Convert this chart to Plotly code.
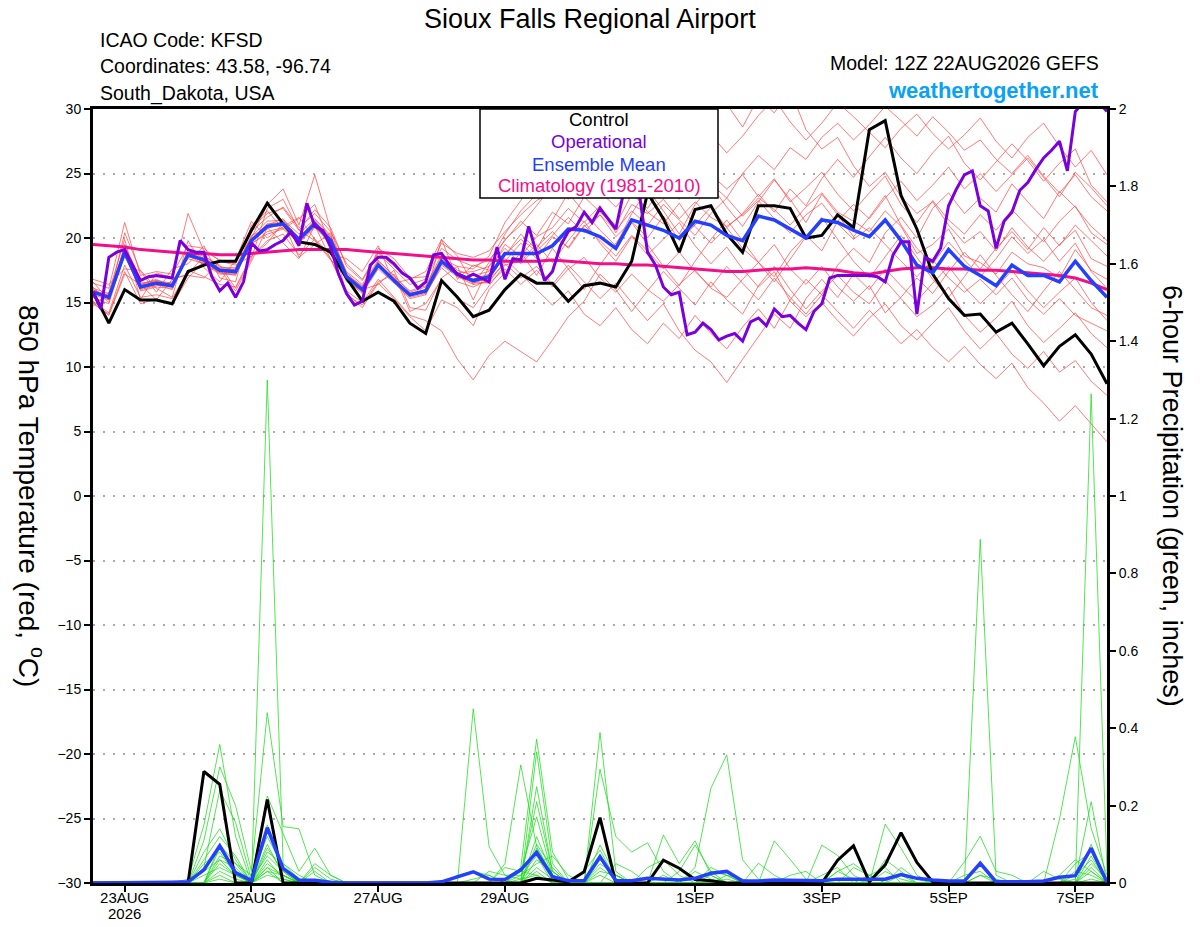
import pandas as pd
import plotly.graph_objects as go

# ---- time axes (GEFS 6-hourly, GFS operational 3-hourly) ----
run_start = "2026-08-22 12:00"
run_end = "2026-09-07 12:00"
times_6h = pd.date_range(run_start, run_end, freq="6h")
times_3h = pd.date_range(run_start, run_end, freq="3h")

date_ticks = ["2026-08-23", "2026-08-25", "2026-08-27", "2026-08-29",
              "2026-09-01", "2026-09-03", "2026-09-05", "2026-09-07"]
date_labels = ["23AUG", "25AUG", "27AUG", "29AUG",
               "1SEP", "3SEP", "5SEP", "7SEP"]
year_label = "2026"

temp_ticks = [-30, -25, -20, -15, -10, -5, 0, 5, 10, 15, 20, 25, 30]
precip_ticks = [0, 0.2, 0.4, 0.6, 0.8, 1, 1.2, 1.4, 1.6, 1.8, 2]
precip_labels = ["0", "0.2", "0.4", "0.6", "0.8", "1", "1.2", "1.4", "1.6", "1.8", "2"]

# ---- 850 hPa temperature (C) ----
control_temp = [15.8, 13.4, 16.0, 15.2, 15.2, 14.9, 17.4, 17.9, 18.2,
                18.2, 20.6, 22.7, 21.1, 19.7, 19.5, 18.9, 16.9,
                15.1, 15.8, 15.1, 13.4, 12.6, 16.7, 15.4, 13.9,
                14.4, 16.0, 17.2, 16.5, 16.5, 15.1, 16.3, 16.5,
                16.2, 18.2, 23.5, 21.5, 18.9, 22.2, 22.5, 20.3,
                18.9, 22.5, 22.5, 22.3, 20.0, 20.2, 21.8, 20.8,
                28.4, 29.1, 23.3, 20.7, 17.2, 15.3, 14.0, 14.1,
                12.7, 13.4, 11.8, 10.1, 11.6, 12.5, 11.0, 8.7]

mean_temp = [15.8, 15.4, 18.9, 16.2, 16.5, 16.3, 18.7, 18.3, 17.5,
             17.4, 19.8, 20.9, 21.1, 19.9, 21.1, 19.8, 17.0,
             16.0, 17.9, 16.7, 15.6, 15.9, 18.2, 17.2, 16.7,
             17.0, 18.8, 18.8, 18.8, 19.4, 20.7, 20.6, 20.1,
             19.2, 21.4, 21.0, 20.6, 20.0, 21.3, 21.0, 20.2,
             19.8, 21.7, 21.4, 20.7, 20.0, 21.4, 21.2, 20.6,
             20.1, 21.4, 19.8, 17.9, 17.3, 19.1, 17.8, 17.1,
             16.3, 17.9, 17.1, 17.1, 16.6, 18.2, 16.7, 15.4]

clim_temp = [19.5, 19.4, 19.3, 19.1, 19.0, 18.9, 18.8, 18.8, 18.7,
             18.7, 18.8, 18.9, 19.0, 19.1, 19.1, 19.1, 19.1,
             19.0, 18.9, 18.8, 18.7, 18.6, 18.5, 18.4, 18.3,
             18.3, 18.2, 18.2, 18.2, 18.3, 18.2, 18.1, 18.0,
             18.0, 17.9, 17.9, 17.8, 17.7, 17.6, 17.5, 17.4,
             17.4, 17.5, 17.6, 17.6, 17.7, 17.6, 17.5, 17.3,
             17.2, 17.4, 17.6, 17.7, 17.7, 17.6, 17.6, 17.5,
             17.5, 17.4, 17.3, 17.2, 17.1, 16.9, 16.5, 16.0]

oper_temp = [15.8, 14.5, 18.5, 18.9, 19.1, 17.9, 16.7, 17.0, 17.1, 17.0,
             16.9, 19.8, 19.1, 18.9, 18.9, 17.0, 15.9, 16.5, 15.4, 16.6,
             19.6, 19.0, 19.1, 19.5, 19.8, 20.5, 19.4, 22.7, 20.9, 20.6,
             19.3, 17.2, 15.7, 14.8, 15.1, 17.9, 18.5, 18.5, 18.0, 17.3,
             16.9, 16.1, 16.6, 18.7, 18.8, 17.9, 17.2, 16.9, 17.2, 16.9,
             16.6, 19.3, 16.8, 18.4, 18.3, 20.9, 18.7, 16.7, 17.4, 19.4,
             20.5, 20.9, 22.0, 21.2, 22.3, 21.5, 20.7, 23.6, 25.0, 23.3,
             18.9, 17.9, 16.2, 15.6, 15.8, 12.5, 12.7, 13.4, 12.9, 12.1,
             12.4, 12.6, 12.0, 13.5, 13.8, 13.2, 14.5, 13.9, 14.0, 13.4,
             12.9, 14.3, 14.9, 16.9, 17.1, 17.1, 17.1, 17.1, 17.1, 17.0,
             16.6, 18.7, 19.7, 19.7, 14.1, 18.5, 18.2, 19.2, 22.5, 23.8,
             24.9, 25.2, 22.5, 22.1, 19.2, 21.3, 22.0, 23.7, 24.3, 25.3,
             26.2, 26.8, 27.5, 25.2, 29.8, 30.5, 30.8, 30.5, 29.8]

temp_m01 = [16.2, 15.0, 19.5, 16.8, 17.0, 16.9, 21.9, 19.0, 18.3,
            18.0, 20.5, 21.6, 22.4, 20.8, 21.9, 20.5, 18.0,
            16.8, 18.9, 17.8, 16.9, 17.0, 19.6, 18.8, 18.5,
            19.0, 20.5, 21.8, 22.9, 23.6, 24.8, 25.9, 26.4,
            25.2, 27.0, 28.1, 26.5, 27.9, 29.2, 28.0, 26.6,
            27.9, 29.5, 30.8, 29.0, 27.6, 28.9, 30.5, 29.4,
            28.2, 27.0, 28.5, 29.6, 28.1, 26.9, 28.0, 29.3,
            27.5, 26.2, 27.8, 28.9, 27.1, 25.5, 26.8, 24.9]
temp_m02 = [15.0, 14.0, 17.2, 16.4, 15.2, 16.8, 17.2, 18.6, 17.9,
            16.1, 18.4, 22.3, 23.0, 20.6, 19.8, 18.3, 17.2,
            16.0, 16.4, 17.5, 14.6, 14.4, 16.9, 17.8, 15.2,
            17.8, 19.9, 21.0, 22.5, 24.1, 23.0, 25.2, 26.8,
            25.5, 27.4, 26.0, 28.6, 30.5, 29.8, 31.2, 30.4,
            28.6, 30.9, 29.7, 31.5, 28.4, 26.9, 27.8, 25.6,
            24.0, 25.1, 23.2, 21.9, 22.8, 21.0, 19.6, 20.5,
            19.0, 20.8, 19.3, 18.2, 19.5, 20.6, 18.4, 17.8]
temp_m03 = [15.9, 15.6, 19.3, 16.4, 16.8, 16.2, 18.9, 18.6, 17.8,
            17.5, 20.1, 21.3, 21.4, 20.3, 21.5, 20.2, 17.3,
            16.2, 18.2, 17.1, 15.8, 16.2, 18.5, 17.5, 17.1,
            17.4, 19.5, 18.6, 20.1, 20.8, 22.3, 21.2, 22.5,
            20.4, 22.6, 21.9, 23.0, 21.5, 22.8, 21.6, 20.9,
            21.8, 23.1, 22.2, 21.0, 22.4, 23.5, 22.0, 21.3,
            20.5, 22.1, 20.9, 18.8, 19.5, 20.7, 18.6, 18.1,
            17.2, 18.9, 18.0, 17.7, 16.9, 19.1, 17.5, 16.8]
temp_m04 = [15.1, 14.2, 17.9, 15.4, 15.6, 15.3, 17.5, 17.0, 16.4,
            16.2, 18.6, 19.8, 20.3, 18.7, 19.9, 18.4, 15.9,
            15.0, 16.8, 15.4, 14.0, 13.6, 12.8, 10.6, 9.0,
            10.9, 12.0, 11.2, 10.4, 12.1, 13.9, 15.1, 17.2,
            16.0, 14.3, 15.9, 17.4, 16.1, 14.8, 16.6, 15.2,
            14.1, 16.3, 17.8, 16.0, 14.5, 15.9, 17.1, 15.8,
            14.9, 16.7, 15.3, 13.9, 14.8, 16.2, 14.0, 12.7,
            13.8, 15.1, 13.2, 11.9, 13.0, 14.2, 12.6, 11.5]
temp_m05 = [16.8, 16.4, 17.6, 17.5, 16.1, 15.4, 19.8, 17.7, 16.6,
            18.3, 21.3, 20.0, 20.9, 21.6, 19.9, 18.7, 18.4,
            17.4, 19.4, 16.5, 16.8, 17.4, 19.9, 16.8, 17.9,
            17.5, 18.4, 17.2, 16.0, 14.8, 15.9, 14.1, 13.2,
            14.6, 12.9, 11.8, 13.4, 12.2, 14.0, 12.6, 11.4,
            13.1, 14.5, 13.0, 15.2, 16.8, 15.6, 17.9, 19.2,
            18.1, 20.4, 21.6, 20.0, 22.3, 23.5, 21.9, 23.1,
            22.0, 24.2, 22.8, 21.5, 23.6, 22.4, 20.9, 19.8]
temp_m06 = [15.6, 15.2, 18.7, 16.0, 16.3, 16.6, 18.4, 18.0, 17.2,
            17.2, 19.5, 20.5, 20.8, 19.7, 20.9, 19.5, 16.7,
            15.7, 17.6, 16.5, 15.3, 15.6, 17.9, 17.0, 16.4,
            16.6, 18.2, 19.6, 18.4, 20.1, 19.3, 21.0, 19.8,
            18.6, 20.2, 19.0, 17.6, 18.9, 17.4, 16.2, 17.8,
            16.5, 15.2, 16.9, 15.4, 14.1, 15.6, 14.3, 13.0,
            14.4, 13.1, 11.8, 12.9, 11.5, 10.4, 11.6, 10.2,
            9.1, 10.3, 8.4, 7.2, 5.8, 7.0, 5.6, 4.2]
temp_m07 = [16.0, 15.3, 19.0, 16.1, 16.4, 16.0, 19.1, 18.4, 17.6,
            17.6, 20.0, 22.6, 23.8, 21.0, 24.9, 20.6, 17.1,
            16.3, 18.0, 16.9, 15.7, 16.0, 18.4, 17.8, 17.6,
            18.6, 21.2, 22.9, 24.8, 26.3, 27.9, 26.6, 28.5,
            29.3, 27.6, 28.8, 26.9, 25.4, 26.8, 24.9, 23.8,
            24.9, 23.2, 24.6, 22.8, 23.9, 25.1, 23.4, 22.1,
            23.5, 24.8, 22.6, 21.2, 22.9, 21.4, 20.3, 21.8,
            20.6, 22.2, 20.9, 19.7, 21.3, 22.5, 20.4, 19.5]
temp_m08 = [15.7, 15.5, 19.1, 16.3, 16.6, 16.4, 18.8, 18.1, 17.4,
            17.3, 19.9, 21.0, 21.5, 19.8, 21.2, 20.0, 16.9,
            15.9, 18.1, 16.8, 15.5, 15.8, 18.0, 17.1, 16.5,
            16.9, 18.6, 20.3, 19.1, 21.4, 23.5, 22.0, 20.6,
            19.4, 21.9, 23.8, 22.1, 20.3, 22.6, 24.1, 22.4,
            20.9, 22.8, 24.5, 23.0, 21.2, 23.4, 21.8, 20.1,
            21.6, 23.3, 21.0, 19.2, 18.0, 19.7, 18.3, 17.0,
            18.4, 20.1, 18.8, 19.9, 18.2, 19.6, 17.4, 16.1]
temp_m09 = [14.7, 15.8, 19.9, 15.2, 17.3, 16.9, 17.1, 16.9, 18.2,
            17.9, 18.6, 19.6, 21.2, 18.5, 19.5, 20.4, 15.6,
            14.8, 16.6, 17.2, 14.3, 14.9, 16.8, 15.3, 14.6,
            16.3, 17.9, 18.2, 19.5, 18.1, 19.8, 21.3, 19.6,
            18.2, 20.1, 18.7, 19.9, 21.2, 19.4, 18.0, 19.3,
            17.6, 16.2, 17.4, 15.1, 13.9, 15.0, 13.6, 12.4,
            13.8, 14.9, 13.2, 12.1, 13.4, 14.6, 12.8, 11.4,
            12.6, 11.0, 9.9, 11.2, 9.6, 10.5, 8.9, 7.8]
temp_m10 = [16.1, 15.7, 18.6, 16.5, 16.7, 16.5, 18.5, 18.5, 17.7,
            17.7, 20.2, 20.7, 21.3, 20.0, 21.4, 20.1, 17.4,
            16.4, 18.3, 17.0, 15.9, 16.3, 18.7, 17.3, 17.4,
            17.8, 19.2, 18.0, 19.3, 20.5, 19.2, 20.9, 21.8,
            20.1, 21.3, 20.0, 21.7, 19.8, 21.0, 22.4, 20.8,
            21.9, 23.4, 22.0, 23.8, 22.5, 24.6, 26.1, 24.7,
            26.3, 27.8, 26.2, 25.0, 26.6, 27.9, 25.8, 24.5,
            25.9, 27.3, 26.0, 24.4, 25.8, 26.9, 24.1, 22.8]
temp_m11 = [15.4, 14.9, 18.8, 15.9, 16.2, 16.1, 18.6, 18.2, 17.3,
            17.1, 19.6, 20.3, 20.7, 19.6, 20.8, 19.7, 16.8,
            15.8, 17.9, 16.6, 15.4, 15.7, 17.7, 16.6, 16.2,
            16.8, 18.0, 16.9, 17.8, 16.4, 17.9, 16.6, 15.3,
            16.5, 15.0, 13.6, 14.9, 12.8, 11.3, 10.4, 8.8,
            10.6, 12.4, 14.1, 13.0, 15.3, 16.8, 15.4, 17.2,
            16.0, 17.6, 16.3, 15.1, 16.5, 17.8, 16.2, 14.9,
            16.1, 17.5, 15.9, 14.6, 15.8, 16.9, 15.0, 13.6]
temp_m12 = [16.6, 15.2, 20.4, 17.4, 15.8, 17.6, 18.0, 19.4, 16.9,
            16.6, 21.0, 22.1, 20.7, 21.5, 22.6, 19.4, 16.6,
            15.9, 19.2, 18.4, 16.9, 15.6, 19.9, 18.6, 16.4,
            18.1, 20.3, 22.1, 23.4, 24.6, 23.1, 24.9, 23.6,
            22.4, 23.8, 22.0, 21.1, 22.7, 20.9, 19.6, 20.8,
            19.2, 18.1, 19.5, 17.6, 16.4, 17.8, 16.2, 15.1,
            16.3, 14.2, 15.4, 16.9, 15.7, 17.4, 18.9, 17.6,
            19.2, 20.5, 19.1, 20.8, 19.4, 21.0, 19.8, 18.6]
temp_m13 = [15.8, 15.3, 18.6, 16.1, 16.4, 16.2, 18.6, 18.0, 17.3,
            17.2, 19.7, 20.8, 21.0, 19.8, 21.0, 19.6, 16.9,
            16.0, 17.8, 16.7, 15.5, 15.9, 18.3, 17.0, 16.6,
            16.5, 17.6, 16.4, 17.5, 16.2, 17.6, 18.5, 16.9,
            15.8, 17.2, 16.0, 15.1, 16.4, 17.5, 16.1, 15.4,
            16.8, 18.1, 17.0, 18.9, 20.2, 19.0, 21.3, 22.6,
            21.5, 23.1, 24.4, 22.9, 24.1, 25.5, 23.8, 25.0,
            23.6, 24.9, 26.2, 24.7, 23.2, 25.1, 23.9, 22.5]
temp_m14 = [16.0, 15.5, 19.2, 16.4, 16.7, 16.4, 18.7, 18.3, 17.5,
            17.4, 19.9, 21.1, 21.2, 20.0, 21.3, 19.9, 17.0,
            16.1, 18.0, 16.8, 15.6, 16.0, 18.1, 17.3, 16.8,
            17.2, 18.7, 19.9, 19.0, 20.2, 21.6, 20.4, 21.8,
            20.6, 22.1, 21.0, 22.6, 21.4, 20.2, 21.9, 23.1,
            21.7, 22.9, 21.5, 20.4, 21.8, 22.7, 21.1, 19.9,
            20.8, 19.5, 18.2, 17.0, 18.3, 16.9, 15.8, 16.8,
            15.6, 16.9, 15.2, 14.1, 15.3, 14.0, 13.4, 12.8]
temp_m15 = [14.9, 14.1, 17.4, 14.9, 15.3, 14.8, 16.9, 18.2, 17.6,
            15.9, 18.2, 20.8, 19.6, 18.4, 21.0, 18.3, 15.7,
            14.6, 16.5, 15.3, 13.9, 12.8, 15.2, 14.6, 13.2,
            16.0, 17.3, 18.9, 17.1, 19.2, 17.6, 16.0, 17.9,
            19.6, 21.2, 19.5, 17.8, 16.3, 18.2, 19.9, 21.4,
            19.8, 18.1, 16.6, 18.4, 20.1, 21.6, 19.9, 18.2,
            16.9, 18.6, 20.2, 18.5, 16.8, 15.4, 17.0, 18.7,
            17.1, 15.6, 14.3, 15.9, 17.4, 16.0, 14.6, 14.0]
temp_m16 = [16.5, 16.1, 21.2, 17.1, 17.4, 17.2, 19.4, 19.2, 18.2,
            18.2, 20.8, 21.9, 22.3, 20.6, 22.2, 20.8, 17.8,
            16.7, 18.8, 17.6, 16.4, 16.8, 19.2, 18.3, 17.8,
            18.3, 19.8, 21.3, 20.2, 22.0, 21.1, 23.2, 22.0,
            21.0, 23.4, 22.3, 24.1, 23.0, 25.3, 24.2, 23.1,
            25.0, 26.4, 25.3, 27.0, 26.1, 27.8, 28.9, 27.6,
            28.8, 30.2, 29.1, 27.9, 29.4, 28.2, 26.8, 27.6,
            26.1, 25.0, 26.4, 24.8, 23.5, 24.9, 23.2, 22.1]

# ---- 6-hour precipitation (inches) ----
control_precip = [0, 0, 0, 0, 0, 0, 0, 0.288, 0.255, 0,
                  0, 0.216, 0, 0, 0, 0, 0, 0, 0, 0,
                  0, 0, 0, 0, 0, 0, 0, 0, 0.012, 0.008,
                  0.003, 0.029, 0.169, 0, 0, 0, 0.059, 0.038, 0.009, 0.006,
                  0, 0, 0, 0, 0, 0, 0, 0.059, 0.096, 0.003,
                  0.047, 0.130, 0.053, 0.003, 0, 0, 0, 0, 0, 0,
                  0, 0, 0, 0, 0]
mean_precip = [0, 0, 0, 0, 0, 0.002, 0.003, 0.034, 0.096, 0.027,
               0.006, 0.143, 0.038, 0.008, 0.007, 0.002, 0, 0, 0, 0,
               0, 0, 0.003, 0.015, 0.029, 0.010, 0.009, 0.034, 0.079, 0.016,
               0.006, 0.006, 0.068, 0.006, 0.006, 0.012, 0.011, 0.008, 0.012, 0.025,
               0.030, 0.005, 0.005, 0.008, 0.007, 0.006, 0.006, 0.010, 0.010, 0.008,
               0.010, 0.022, 0.012, 0.008, 0.005, 0.005, 0.051, 0.003, 0.002, 0.003,
               0.005, 0.015, 0.019, 0.090, 0.002]

precip_m01 = [0, 0, 0, 0, 0, 0, 0.01, 0.15, 0.358, 0.12,
              0, 1.30, 0.05, 0.01, 0, 0, 0, 0, 0, 0,
              0, 0, 0, 0, 0, 0, 0, 0.04, 0.372, 0.08,
              0.01, 0, 0, 0, 0, 0, 0, 0, 0, 0.02,
              0, 0, 0, 0, 0, 0, 0, 0.03, 0.01, 0,
              0, 0, 0, 0, 0, 0, 0, 0, 0, 0,
              0, 0, 0, 0.10, 0]
precip_m02 = [0, 0, 0, 0, 0, 0, 0, 0.11, 0.30, 0.20,
              0.03, 0.44, 0.146, 0.14, 0.02, 0, 0, 0, 0, 0,
              0, 0, 0, 0, 0.45, 0.094, 0.02, 0.01, 0.21, 0.03,
              0, 0, 0, 0, 0, 0, 0, 0, 0, 0,
              0.01, 0, 0, 0, 0, 0, 0, 0, 0, 0,
              0, 0, 0, 0, 0, 0, 0.888, 0.02, 0, 0,
              0, 0, 0.01, 0.21, 0]
precip_m03 = [0, 0, 0, 0, 0, 0, 0, 0.04, 0.24, 0.156,
              0.01, 0.225, 0.128, 0.03, 0.09, 0.02, 0, 0, 0, 0,
              0, 0, 0, 0, 0, 0, 0.05, 0.305, 0.094, 0.02,
              0, 0, 0.389, 0.03, 0, 0, 0, 0, 0.04, 0.245,
              0.331, 0.06, 0.01, 0, 0, 0, 0, 0, 0, 0,
              0, 0, 0, 0, 0, 0, 0, 0, 0, 0,
              0, 0.165, 0.378, 0.141, 0.02]
precip_m04 = [0, 0, 0, 0, 0, 0, 0, 0, 0.09, 0.03,
              0, 0.15, 0.04, 0, 0, 0, 0, 0, 0, 0,
              0, 0, 0, 0, 0, 0, 0, 0, 0.339, 0.05,
              0, 0, 0.294, 0.12, 0.08, 0.104, 0.03, 0, 0, 0,
              0, 0, 0, 0, 0, 0, 0, 0, 0, 0,
              0.152, 0.09, 0.02, 0, 0, 0, 0, 0, 0, 0,
              0, 0, 0, 1.264, 0.03]
precip_m05 = [0, 0, 0, 0, 0, 0, 0, 0.06, 0.12, 0.07,
              0, 0.10, 0.02, 0, 0, 0, 0, 0, 0, 0,
              0, 0, 0, 0.02, 0.03, 0.02, 0, 0, 0.249, 0.03,
              0, 0, 0.098, 0.02, 0, 0, 0.124, 0.05, 0.109, 0.02,
              0, 0, 0, 0, 0, 0, 0, 0, 0, 0,
              0, 0, 0, 0, 0, 0.055, 0.121, 0.03, 0.02, 0,
              0, 0, 0, 0, 0]
precip_m06 = [0, 0, 0, 0, 0, 0, 0, 0, 0.05, 0.02,
              0.01, 0.07, 0.03, 0, 0, 0, 0, 0, 0, 0,
              0, 0, 0, 0, 0, 0, 0.04, 0.03, 0.171, 0.02,
              0, 0.03, 0.085, 0.01, 0, 0, 0, 0, 0, 0,
              0, 0, 0, 0.109, 0.061, 0.01, 0, 0, 0, 0,
              0, 0.04, 0.01, 0, 0, 0, 0, 0, 0, 0,
              0, 0, 0.05, 0.08, 0]
precip_m07 = [0, 0, 0, 0, 0, 0, 0, 0.03, 0.06, 0.04,
              0, 0.05, 0.02, 0, 0, 0, 0, 0, 0, 0,
              0, 0, 0, 0, 0, 0.03, 0.02, 0.02, 0.05, 0.07,
              0.02, 0, 0, 0, 0, 0, 0, 0.03, 0.098, 0.03,
              0, 0, 0, 0, 0, 0, 0.098, 0.071, 0.02, 0,
              0, 0, 0, 0, 0, 0, 0, 0, 0, 0,
              0.03, 0.01, 0, 0, 0]
precip_m08 = [0, 0, 0, 0, 0, 0, 0, 0, 0.10, 0.05,
              0, 0.06, 0.01, 0, 0.04, 0.01, 0, 0, 0, 0,
              0, 0, 0, 0, 0, 0, 0, 0.02, 0.07, 0,
              0, 0, 0.03, 0.02, 0, 0, 0, 0, 0, 0,
              0, 0, 0, 0, 0, 0, 0, 0.03, 0.05, 0.02,
              0, 0, 0, 0, 0, 0, 0.02, 0.01, 0, 0,
              0, 0, 0, 0.03, 0]
precip_m09 = [0, 0, 0, 0, 0, 0, 0, 0.02, 0.04, 0.02,
              0, 0.03, 0.02, 0, 0, 0, 0, 0, 0, 0,
              0, 0, 0, 0, 0, 0, 0, 0, 0.04, 0.01,
              0, 0, 0, 0, 0, 0.04, 0.06, 0.02, 0, 0,
              0, 0, 0.051, 0.02, 0, 0, 0, 0, 0, 0,
              0.06, 0.03, 0, 0, 0, 0, 0, 0, 0, 0,
              0, 0, 0, 0.05, 0.01]
precip_m10 = [0, 0, 0, 0, 0, 0, 0, 0, 0.07, 0.05,
              0.02, 0.12, 0.04, 0.01, 0, 0, 0, 0, 0, 0,
              0, 0, 0, 0, 0, 0, 0, 0, 0.12, 0.02,
              0, 0, 0.05, 0.02, 0, 0, 0, 0, 0.03, 0.01,
              0, 0, 0, 0, 0, 0, 0, 0, 0.04, 0.02,
              0, 0, 0, 0, 0, 0, 0, 0, 0, 0,
              0, 0, 0.02, 0.06, 0]
precip_m11 = [0, 0, 0, 0, 0, 0, 0, 0, 0.03, 0.01,
              0, 0.04, 0, 0, 0.05, 0.02, 0, 0, 0, 0,
              0, 0, 0, 0, 0.01, 0.02, 0, 0.03, 0.02, 0,
              0, 0, 0, 0, 0, 0, 0, 0, 0, 0.04,
              0.02, 0, 0, 0, 0, 0, 0, 0, 0, 0,
              0.03, 0.01, 0, 0, 0, 0, 0, 0, 0, 0,
              0, 0, 0, 0, 0]
precip_m12 = [0, 0, 0, 0, 0, 0, 0, 0.05, 0.08, 0.02,
              0, 0.09, 0.03, 0, 0, 0, 0, 0, 0, 0,
              0, 0, 0, 0, 0, 0, 0, 0, 0.06, 0.03,
              0, 0, 0.04, 0.01, 0, 0, 0, 0, 0, 0,
              0, 0, 0, 0, 0.02, 0.03, 0, 0, 0, 0,
              0, 0, 0, 0, 0, 0.02, 0.03, 0, 0, 0,
              0, 0, 0, 0.04, 0]
precip_m13 = [0, 0, 0, 0, 0, 0, 0, 0, 0.02, 0,
              0, 0.02, 0.01, 0, 0, 0, 0, 0, 0, 0,
              0, 0, 0, 0, 0, 0, 0, 0, 0.03, 0,
              0, 0, 0.02, 0, 0, 0, 0, 0, 0, 0,
              0.02, 0.01, 0, 0, 0, 0, 0, 0, 0, 0,
              0, 0.02, 0, 0, 0, 0, 0, 0, 0, 0,
              0, 0, 0.03, 0.02, 0]
precip_m14 = [0, 0, 0, 0, 0, 0, 0, 0.08, 0.14, 0.06,
              0, 0.08, 0.05, 0.02, 0, 0, 0, 0, 0, 0,
              0, 0, 0, 0, 0, 0, 0, 0, 0.10, 0.04,
              0, 0, 0, 0.05, 0.03, 0, 0, 0, 0, 0,
              0, 0, 0, 0, 0, 0, 0.02, 0.04, 0, 0,
              0, 0, 0, 0, 0, 0, 0, 0, 0, 0,
              0, 0, 0, 0.07, 0]
precip_m15 = [0, 0, 0, 0, 0, 0, 0, 0, 0.01, 0,
              0, 0.03, 0, 0, 0, 0, 0, 0, 0, 0,
              0, 0, 0, 0, 0, 0, 0, 0.01, 0.02, 0,
              0, 0, 0, 0, 0, 0, 0.02, 0, 0, 0,
              0, 0, 0, 0, 0, 0, 0, 0, 0, 0.02,
              0.04, 0, 0, 0, 0, 0, 0, 0, 0, 0,
              0, 0, 0, 0.01, 0]
precip_m16 = [0, 0, 0, 0, 0, 0, 0, 0, 0.06, 0.02,
              0, 0.04, 0.02, 0, 0.03, 0, 0, 0, 0, 0,
              0, 0, 0, 0, 0, 0, 0, 0, 0.09, 0.02,
              0, 0, 0.06, 0.02, 0, 0, 0, 0, 0, 0.03,
              0.02, 0, 0, 0, 0, 0, 0, 0, 0, 0,
              0, 0, 0, 0, 0, 0, 0.02, 0, 0, 0,
              0, 0.02, 0.06, 0.03, 0]

temp_members = [temp_m01, temp_m02, temp_m03, temp_m04, temp_m05, temp_m06,
                temp_m07, temp_m08, temp_m09, temp_m10, temp_m11, temp_m12,
                temp_m13, temp_m14, temp_m15, temp_m16]
precip_members = [precip_m01, precip_m02, precip_m03, precip_m04, precip_m05,
                  precip_m06, precip_m07, precip_m08, precip_m09, precip_m10,
                  precip_m11, precip_m12, precip_m13, precip_m14, precip_m15,
                  precip_m16]

for series in temp_members + precip_members + [control_temp, mean_temp, clim_temp,
                                               control_precip, mean_precip]:
   assert len(series) == len(times_6h), len(series)
assert len(oper_temp) == len(times_3h), len(oper_temp)

# ---- colours ----
RED = "rgba(255,70,70,0.8)"
GREEN = "rgba(30,220,30,0.85)"
BLACK = "black"
PURPLE = "#7a00dc"
BLUE = "#2440ff"
PINK = "#f0108a"
SKY = "#0aa2f5"

fig = go.Figure()

# ensemble members
for m in temp_members:
   fig.add_trace(go.Scatter(x=times_6h, y=m, mode="lines", line=dict(color=RED, width=0.9),
                            hoverinfo="skip", showlegend=False))
for m in precip_members:
   fig.add_trace(go.Scatter(x=times_6h, y=m, mode="lines", yaxis="y2",
                            line=dict(color=GREEN, width=0.9),
                            hoverinfo="skip", showlegend=False))

# precipitation: control and mean
fig.add_trace(go.Scatter(x=times_6h, y=control_precip, mode="lines", yaxis="y2",
                         line=dict(color=BLACK, width=3), showlegend=False))
fig.add_trace(go.Scatter(x=times_6h, y=mean_precip, mode="lines", yaxis="y2",
                         line=dict(color=BLUE, width=3.5), showlegend=False))

# temperature: climatology, control, mean, operational
fig.add_trace(go.Scatter(x=times_6h, y=clim_temp, mode="lines",
                         line=dict(color=PINK, width=3), showlegend=False))
fig.add_trace(go.Scatter(x=times_6h, y=control_temp, mode="lines",
                         line=dict(color=BLACK, width=3), showlegend=False))
fig.add_trace(go.Scatter(x=times_6h, y=mean_temp, mode="lines",
                         line=dict(color=BLUE, width=3.5), showlegend=False))
fig.add_trace(go.Scatter(x=times_3h, y=oper_temp, mode="lines",
                         line=dict(color=PURPLE, width=3), showlegend=False))

# full-window figure; the page body margin is removed after drawing
FIG_W, FIG_H = 1200, 927
# plot area in window pixels: x 93..1107, y 109..883
L, R, T, B = 93, 1107, 109, 883


def px(x):
   return (x - L) / (R - L)


def py(y):
   return (B - y) / (B - T)


annotations = [
   dict(text="Sioux Falls Regional Airport", x=px(590), y=py(19), xanchor="center",
        yanchor="middle", font=dict(size=27, color="black")),
   dict(text="ICAO Code: KFSD", x=px(98), y=py(40), xanchor="left", yanchor="middle",
        font=dict(size=19.5, color="black")),
   dict(text="Coordinates: 43.58, -96.74", x=px(98), y=py(66), xanchor="left",
        yanchor="middle", font=dict(size=19.5, color="black")),
   dict(text="South_Dakota, USA", x=px(98), y=py(93), xanchor="left", yanchor="middle",
        font=dict(size=19.5, color="black")),
   dict(text="Model: 12Z 22AUG2026 GEFS", x=px(1101), y=py(63), xanchor="right",
        yanchor="middle", font=dict(size=19.5, color="black")),
   dict(text="<b>weathertogether.net</b>", x=px(1101), y=py(90), xanchor="right",
        yanchor="middle", font=dict(size=22, color=SKY)),
   dict(text="850 hPa Temperature (red, <sup>o</sup>C)", x=px(31), y=0.5, textangle=90,
        xanchor="center", yanchor="middle", font=dict(size=28, color="black")),
   dict(text="6-hour Precipitation (green, inches)", x=px(1172), y=0.5, textangle=90,
        xanchor="center", yanchor="middle", font=dict(size=27, color="black")),
   # legend box text
   dict(text="Control", x=px(599), y=py(120), xanchor="center", yanchor="middle",
        font=dict(size=18.5, color=BLACK)),
   dict(text="Operational", x=px(599), y=py(142), xanchor="center", yanchor="middle",
        font=dict(size=18.5, color=PURPLE)),
   dict(text="Ensemble Mean", x=px(599), y=py(164), xanchor="center", yanchor="middle",
        font=dict(size=18.5, color=BLUE)),
   dict(text="Climatology (1981-2010)", x=px(599), y=py(185), xanchor="center",
        yanchor="middle", font=dict(size=18.5, color=PINK)),
]
for a in annotations:
   a.update(xref="paper", yref="paper", showarrow=False)

# year under the first date tick
annotations.append(dict(text=year_label, xref="x", x=date_ticks[0], yref="paper",
                        y=py(913), xanchor="center", yanchor="middle", showarrow=False,
                        font=dict(size=15, color="black")))

fig.update_layout(
   width=FIG_W, height=FIG_H,
   margin=dict(l=L, r=FIG_W - R, t=T, b=FIG_H - B),
   plot_bgcolor="white", paper_bgcolor="white",
   font=dict(family="Liberation Sans, Arial, sans-serif", color="black"),
   showlegend=False,
   annotations=annotations,
   shapes=[dict(type="rect", xref="paper", yref="paper", x0=px(480), x1=px(718),
                y0=py(198), y1=1, fillcolor="white", line=dict(color="black", width=1.5),
                layer="above")],
   xaxis=dict(type="date", range=[run_start, run_end], showgrid=False, zeroline=False,
              automargin=False,
              showline=True, linecolor="black", linewidth=3, mirror=True,
              ticks="outside", ticklen=6, tickwidth=1.5, tickcolor="black",
              ticklabelstandoff=-7,
              tickvals=date_ticks, ticktext=date_labels, tickfont=dict(size=15)),
   yaxis=dict(range=[-30, 30], tickvals=temp_ticks, showgrid=True, gridcolor="#aaaaaa",
              griddash="2px,8px", gridwidth=1.5, zeroline=False, showline=True,
              automargin=False,
              linecolor="black", linewidth=3, ticks="outside", ticklen=6, tickwidth=1.5,
              tickcolor="black", tickfont=dict(size=14)),
   yaxis2=dict(range=[0, 2], overlaying="y", side="right", tickvals=precip_ticks,
               ticktext=precip_labels, showgrid=False, zeroline=False, showline=True,
               automargin=False,
               linecolor="black", linewidth=3, ticks="outside", ticklen=6, tickwidth=1.5,
               tickcolor="black", tickfont=dict(size=14)),
)

fig.write_html("out.html", config={"displayModeBar": False},
               post_script="document.body.style.margin = '0';")
